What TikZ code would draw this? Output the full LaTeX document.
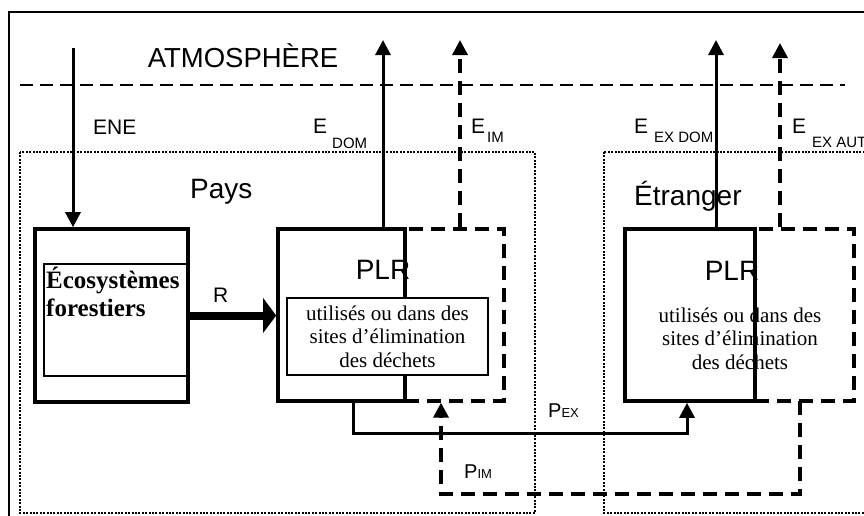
\documentclass[tikz,border=0pt]{standalone}
\usepackage{fontspec}
\setmainfont{Liberation Serif}
\setsansfont{Liberation Sans}
\usepackage{tikz}
\usetikzlibrary{arrows.meta,calc,positioning}

\newcommand{\lowsub}[2]{\raisebox{-#1}{\fontsize{15}{15}\selectfont #2}}

\begin{document}
\begin{tikzpicture}[x=1pt,y=-1pt,>={Triangle[width=15pt,length=15pt]},
  frame/.style={line width=2.4pt},
  box/.style={draw,line width=3.6pt,inner sep=0pt},
  dbox/.style={draw,line width=3.4pt,dash pattern=on 14pt off 8pt,inner sep=0pt},
  tbox/.style={draw,line width=1.4pt,fill=white,inner sep=0pt},
  zone/.style={line width=2.4pt,dash pattern=on 2pt off 1.4pt},
  flow/.style={line width=3pt},
  dflow/.style={line width=3.4pt,dash pattern=on 14pt off 8pt},
  lbl/.style={font=\sffamily\fontsize{21}{21}\selectfont,inner sep=0pt,anchor=base west},
  big/.style={font=\sffamily\fontsize{28}{28}\selectfont,inner sep=0pt,anchor=base west},
  serif/.style={font=\rmfamily\fontsize{21}{23.5}\selectfont,align=center}]
\useasboundingbox (0,0) rectangle (864,515);
\draw[frame] (9,12) rectangle (880,530);
% atmosphere
\draw[line width=1.6pt,dash pattern=on 13pt off 7pt] (20,85) -- (845,85);
\node[big,anchor=base,font=\sffamily\fontsize{27.5}{27.5}\selectfont] (atm) at (243,67) {ATMOSPHÈRE};
% zones
\draw[zone] (20,152) rectangle (535,513);
\draw[zone,line width=1.6pt] (604,152) rectangle (880,513);
\node[big] (pays) at (190,198) {Pays};
\node[big] (etr) at (634,205) {Étranger};

% country
\node[box,minimum width=153pt,minimum height=173pt] (eco) at (111.5,315.5) {};
\node[draw,line width=1.4pt,inner sep=0pt,minimum width=143pt,minimum height=112pt] (ecoin) at (115.5,320) {};
\node[font=\rmfamily\bfseries\fontsize{25}{28}\selectfont,align=left,anchor=north west,inner sep=0pt] (ecotxt) at (46,267) {Écosystèmes\\forestiers};
\node[dbox,minimum width=99pt,minimum height=172pt] (dashD) at (454.5,315) {};
\node[box,minimum width=127pt,minimum height=172pt] (plrD) at (341.5,315) {};
\node[big,anchor=base] (plrDl) at (383,279) {PLR};
\node[tbox,serif,minimum width=201pt,minimum height=77pt] (txtD) at (387.5,336.5) {utilisés ou dans des\\sites d’élimination\\des déchets};

% abroad
\node[dbox,minimum width=99pt,minimum height=172pt] (dashF) at (804.5,315) {};
\node[serif,inner sep=0pt] (txtF) at (740,338.5) {utilisés ou dans des\\sites d’élimination\\des déchets};
\node[big,anchor=base] (plrFl) at (732,280) {PLR};
\node[box,minimum width=130pt,minimum height=172pt] (plrF) at (690,315) {};

% emissions
\coordinate (eneTop) at (73,48);
\draw[flow,->] (eneTop) -- (eneTop |- eco.north);
\coordinate (edomTop) at (383,40);
\draw[flow,->] (edomTop |- plrD.north) -- (edomTop);
\coordinate (eimTop) at (460,40);
\draw[dflow,->] (eimTop |- dashD.north) -- (eimTop);
\coordinate (exdTop) at (716,40);
\draw[flow,->] (exdTop |- plrF.north) -- (exdTop);
\coordinate (exaTop) at (780,43);
\draw[dflow,->] (exaTop |- dashF.north) -- (exaTop);
\node[lbl] (ene) at (93,134) {ENE};
\node[lbl] (edom) at (313,133) {E\hspace{5pt}\lowsub{15pt}{DOM}};
\node[lbl] (eim) at (471,133) {E\hspace{2pt}\lowsub{9pt}{IM}};
\node[lbl] (exdom) at (634,133) {E\hspace{6pt}\lowsub{9pt}{EX DOM}};
\node[lbl] (exaut) at (792,133) {E\hspace{6pt}\lowsub{14pt}{EX AUT}};

% harvest
\draw[line width=8pt,-{Triangle[width=34pt,length=13pt]}] (eco.east) -- (eco.east -| plrD.west);
\node[lbl] (rlbl) at (213,302) {R};

% trade
\coordinate (pexA) at (353,401);
\coordinate (pexB) at (687,433);
\draw[flow,->] (pexA) |- (pexB) -- (pexB |- plrF.south);
\coordinate (pimA) at (800,401);
\coordinate (pimB) at (441,494);
\draw[dflow,->] (pimA) |- (pimB) -- (pimB |- dashD.south);
\node[lbl,font=\sffamily\fontsize{20}{20}\selectfont] (pex) at (548,417) {P{\fontsize{13}{13}\selectfont EX}};
\node[lbl,font=\sffamily\fontsize{20}{20}\selectfont] (pim) at (464,478) {P{\fontsize{13}{13}\selectfont IM}};
\end{tikzpicture}
\end{document}
